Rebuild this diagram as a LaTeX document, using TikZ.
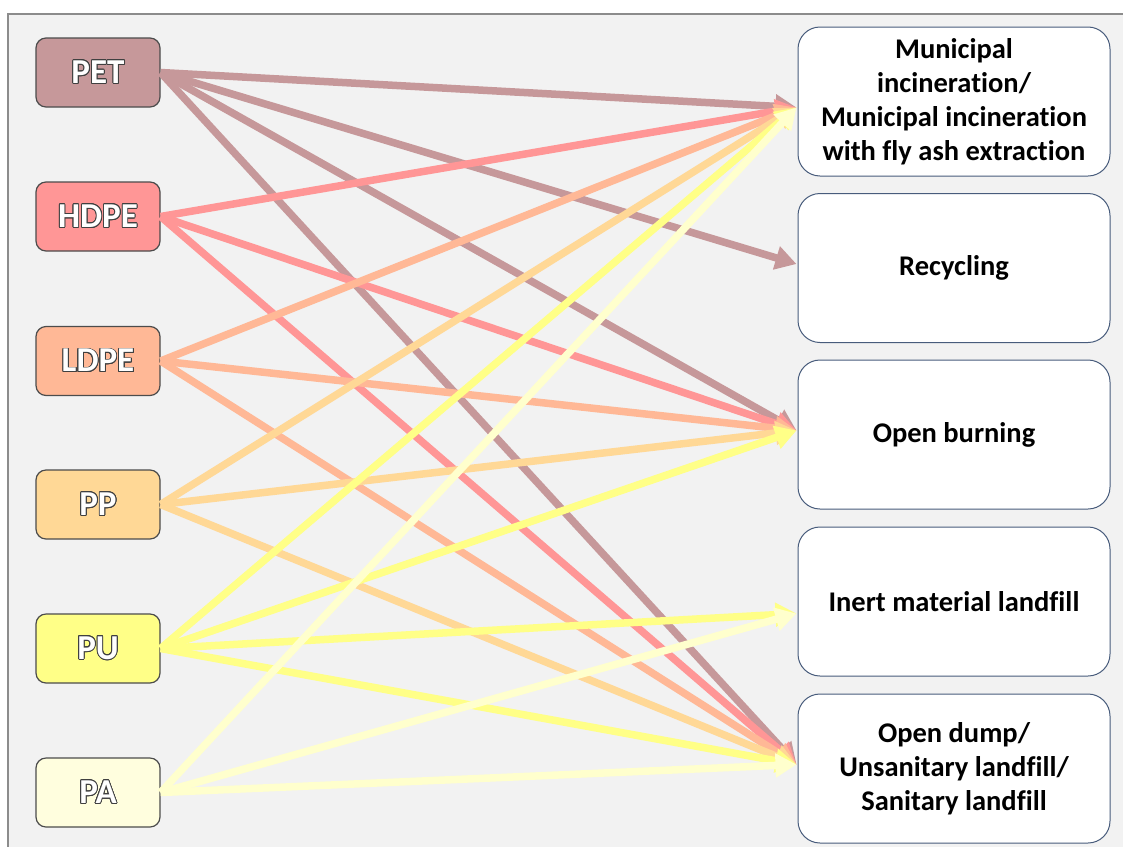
\documentclass[tikz,border=0pt]{standalone}
\usepackage{fontspec}
\setmainfont{Carlito}[Ligatures=CommonOff]
\usepackage{contour}
\usetikzlibrary{arrows.meta,calc}
\contourlength{0.9pt}
\definecolor{cPET}{RGB}{198,152,154}
\definecolor{cHDPE}{RGB}{255,150,150}
\definecolor{cLDPE}{RGB}{255,184,150}
\definecolor{cPP}{RGB}{255,216,150}
\definecolor{cPU}{RGB}{255,255,135}
\definecolor{cPA}{RGB}{255,254,222}
\definecolor{lPA}{RGB}{255,255,205}
\definecolor{boxline}{RGB}{72,92,124}
\newcommand\outl[1]{\contour{black!75}{#1}}
\begin{document}
\begin{tikzpicture}[x=1pt,y=-1pt,
    src/.style={draw=black!70,line width=1.2pt,rounded corners=10pt,
      minimum width=124pt,minimum height=69pt,text=white,
      font=\fontsize{35}{40}\selectfont\bfseries},
    dst/.style={draw=boxline,line width=1pt,fill=white,rounded corners=22pt,
      minimum width=312pt,minimum height=149pt,align=center,
      font=\fontsize{28.5}{34}\selectfont\bfseries},
    flow/.style={line width=7.5pt,-{Triangle[length=21pt,width=23pt]}}]
  \useasboundingbox (0,0) rectangle (1123,846);
  \draw[draw=black!45,line width=1.5pt,fill=black!5] (8,14) rectangle (1140,870);
  \draw
    (98,72.5) node[src,fill=cPET] (pet){\outl{PET}}
    (98,216.5) node[src,fill=cHDPE] (hdpe){\outl{HDPE}}
    (98,361) node[src,fill=cLDPE] (ldpe){\outl{LDPE}}
    (98,504.5) node[src,fill=cPP] (pp){\outl{PP}}
    (98,648.5) node[src,fill=cPU] (pu){\outl{PU}}
    (98,792.5) node[src,fill=cPA] (pa){\outl{PA}};
  \draw
    (954,101.5) node[dst] (mun){Municipal\\incineration/\\Municipal incineration\\with fly ash extraction}
    (954,268) node[dst] (rec){Recycling}
    (954,434.5) node[dst] (burn){Open burning}
    (954,601.5) node[dst] (inert){Inert material landfill}
    (954,768.5) node[dst] (dump){Open dump/\\Unsanitary landfill/\\Sanitary landfill};
  \coordinate (munIn) at ($(mun.west)+(-1,6)$);
  \coordinate (recIn) at ($(rec.west)+(-1,-4)$);
  \coordinate (burnIn) at ($(burn.west)+(-1,-4)$);
  \coordinate (inertIn) at ($(inert.west)+(-1,12)$);
  \coordinate (dumpIn) at ($(dump.west)+(-1,-4)$);
  \begin{scope}[flow]
    \draw[cPET] (pet.east) to (munIn);
    \draw[cPET] (pet.east) to (recIn);
    \draw[cPET] (pet.east) to (burnIn);
    \draw[cPET] (pet.east) to (dumpIn);
    \draw[cHDPE] (hdpe.east) to (munIn);
    \draw[cHDPE] (hdpe.east) to (burnIn);
    \draw[cHDPE] (hdpe.east) to (dumpIn);
    \draw[cLDPE] (ldpe.east) to (munIn);
    \draw[cLDPE] (ldpe.east) to (burnIn);
    \draw[cLDPE] (ldpe.east) to (dumpIn);
    \draw[cPP] (pp.east) to (munIn);
    \draw[cPP] (pp.east) to (burnIn);
    \draw[cPP] (pp.east) to (dumpIn);
    \draw[cPU] (pu.east) to (munIn);
    \draw[cPU] (pu.east) to (burnIn);
    \draw[cPU] (pu.east) to (inertIn);
    \draw[cPU] (pu.east) to (dumpIn);
    \draw[lPA] (pa.east) to (munIn);
    \draw[lPA] (pa.east) to (inertIn);
    \draw[lPA] (pa.east) to (dumpIn);
  \end{scope}
\end{tikzpicture}
\end{document}
